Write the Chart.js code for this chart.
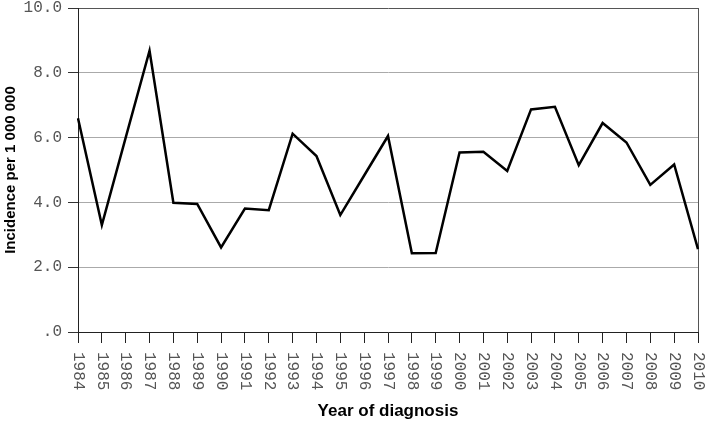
<!DOCTYPE html>
<html>
<head>
<meta charset="utf-8">
<script src="https://cdn.jsdelivr.net/npm/chart.js@4"></script>
<style>
  html,body{margin:0;padding:0;background:#fff;}
  #wrap{width:709px;height:424px;}
</style>
</head>
<body>
<div id="wrap"><canvas id="chart" width="709" height="424"></canvas></div>
<script>
// data
const years = ['1984','1985','1986','1987','1988','1989','1990','1991','1992','1993','1994','1995','1996',
  '1997','1998','1999','2000','2001','2002','2003','2004','2005','2006','2007','2008','2009','2010'];
const incidence = [6.60,3.30,6.00,8.68,3.99,3.95,2.61,3.81,3.76,6.12,5.43,3.61,4.83,
  6.05,2.43,2.44,5.54,5.56,4.97,6.87,6.95,5.15,6.45,5.85,4.54,5.17,2.56];
const yTicks = [0,2,4,6,8,10];

const monoFont = {family:'"Liberation Mono", "DejaVu Sans Mono", monospace', size:16};

// x labels read top-to-bottom, so draw them by hand at the scale's tick pixels
const verticalLabels = {
  id:'verticalLabels',
  afterDraw(chart){
    const xs = chart.scales.x;
    const ctx = chart.ctx;
    ctx.save();
    ctx.font = '16px "Liberation Mono", "DejaVu Sans Mono", monospace';
    ctx.fillStyle = '#555';
    ctx.textAlign = 'left';
    ctx.textBaseline = 'middle';
    xs.ticks.forEach((t,i)=>{
      const x = xs.getPixelForTick(i);
      ctx.save();
      ctx.translate(x, xs.top + 20);
      ctx.rotate(Math.PI/2);
      ctx.fillText(years[i], 0, 0);
      ctx.restore();
    });
    ctx.restore();
  }
};

new Chart(document.getElementById('chart'), {
  type:'line',
  data:{
    labels: years,
    datasets:[{
      data: incidence,
      borderColor:'#000',
      borderWidth:2.5,
      pointRadius:0,
      tension:0,
      fill:false
    }]
  },
  options:{
    responsive:false,
    animation:false,
    layout:{padding:{top:8,right:11,left:0,bottom:0}},
    plugins:{legend:{display:false},tooltip:{enabled:false}},
    scales:{
      x:{
        offset:false,
        afterFit(s){ s.height = 92; s.paddingLeft = 0; s.paddingRight = 0; },
        border:{color:'#222',width:1},
        grid:{
          drawOnChartArea:true,
          color:(c)=> c.index === years.length-1 ? '#555' : 'rgba(0,0,0,0)',
          tickColor:'#222',
          tickLength:11
        },
        ticks:{color:'rgba(0,0,0,0)',font:monoFont,autoSkip:false,minRotation:90,maxRotation:90},
        title:{display:true,text:'Year of diagnosis',color:'#000',
          font:{family:'"Liberation Sans", Arial, sans-serif',size:17,weight:'bold'},
          padding:{top:0,bottom:2}}
      },
      y:{
        min:0,max:10,
        afterFit(s){ s.width = 78; s.paddingTop = 0; s.paddingBottom = 0; },
        afterBuildTicks(s){ s.ticks = yTicks.map(v=>({value:v})); },
        border:{color:'#222',width:1},
        grid:{
          color:(c)=> c.tick && c.tick.value === 10 ? '#555' : '#aaa',
          tickColor:'#333',
          tickLength:10
        },
        ticks:{
          color:'#555',font:monoFont,padding:6,
          callback:(v)=> v === 0 ? '.0' : Number(v).toFixed(1)
        },
        title:{display:true,text:'Incidence per 1 000 000',color:'#000',
          font:{family:'"Liberation Sans", Arial, sans-serif',size:15,weight:'bold'},
          padding:{top:2,bottom:2}}
      }
    }
  },
  plugins:[verticalLabels]
});
</script>
</body>
</html>
